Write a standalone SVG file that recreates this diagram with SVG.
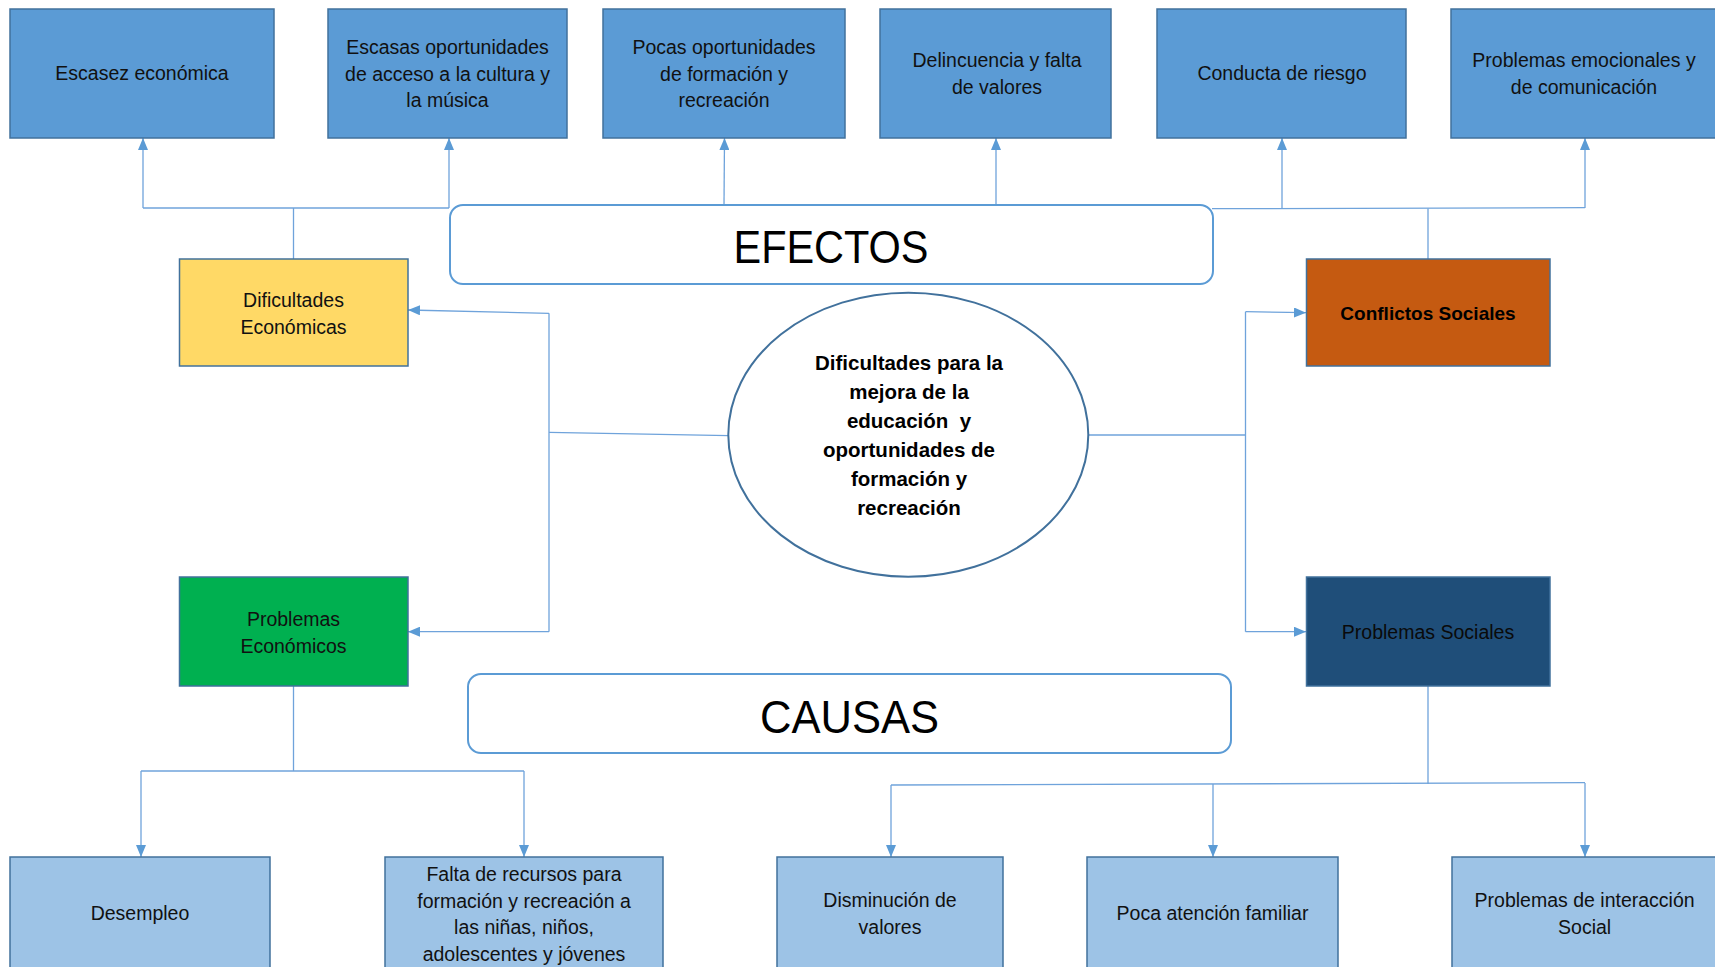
<svg xmlns="http://www.w3.org/2000/svg" width="1715" height="967" viewBox="0 0 1715 967">
<defs>
<marker id="arr" markerUnits="userSpaceOnUse" markerWidth="12" markerHeight="10" refX="12" refY="5" orient="auto">
<path d="M0,0 L12,5 L0,10 z" fill="#5b9bd5"/>
</marker>
<style>
text{font-family:"Liberation Sans",Arial,sans-serif;font-size:19.5px;fill:#111;text-anchor:middle}
.top{fill:#5b9bd5;stroke:#41719c;stroke-width:1.5}
.bot{fill:#9dc3e6;stroke:#41719c;stroke-width:1.5}
.mid{stroke:#41719c;stroke-width:1.5}
.title{fill:#fff;stroke:#5b9bd5;stroke-width:2}
.big{font-size:46px;fill:#000}
.b{font-weight:bold;fill:#000}
.e{font-size:20.5px}
#connectors path{fill:none;stroke:#6fa3db;stroke-width:1.3}
#connectors path.a{marker-end:url(#arr)}
</style>
</defs>
<rect width="1715" height="967" fill="#fff"/>
<g id="connectors">
<path d="M293.5 259 V208"/>
<path d="M143 208 H449"/>
<path class="a" d="M143 208 V138"/>
<path class="a" d="M449 208 V138"/>
<path class="a" d="M724 205 L724.5 138"/>
<path class="a" d="M996 205 V138"/>
<path d="M1428 259 V208.5"/>
<path d="M1212 208.7 L1585 207.7"/>
<path class="a" d="M1282 209 V138"/>
<path class="a" d="M1585 208 V138"/>
<path d="M729 435.7 L549 432.3"/>
<path d="M549 313.3 V631.7"/>
<path class="a" d="M549 313.3 L408 310"/>
<path class="a" d="M549 631.7 H408"/>
<path d="M1088 435 H1245.5"/>
<path d="M1245.5 311.7 V631.7"/>
<path class="a" d="M1245.5 311.7 L1306 312.7"/>
<path class="a" d="M1245.5 631.7 H1306"/>
<path d="M293.5 686 V771"/>
<path d="M141 771 H524"/>
<path class="a" d="M141 771 V857"/>
<path class="a" d="M524 771 V857"/>
<path d="M1428 686 V784"/>
<path d="M891 785 L1585 782.7"/>
<path class="a" d="M891 785 V857"/>
<path class="a" d="M1213 784 V857"/>
<path class="a" d="M1585 783 V857"/>
</g>
<g id="efecto1"><rect class="top" x="10" y="9" width="264" height="129"/><text x="142" y="80">Escasez económica</text></g>
<g id="efecto2"><rect class="top" x="328" y="9" width="239" height="129"/><text x="447.5" y="54">Escasas oportunidades</text><text x="447.5" y="80.5">de acceso a la cultura y</text><text x="447.5" y="107">la música</text></g>
<g id="efecto3"><rect class="top" x="603" y="9" width="242" height="129"/><text x="724" y="54">Pocas oportunidades</text><text x="724" y="80.5">de formación y</text><text x="724" y="107">recreación</text></g>
<g id="efecto4"><rect class="top" x="880" y="9" width="231" height="129"/><text x="997" y="67">Delincuencia y falta</text><text x="997" y="94">de valores</text></g>
<g id="efecto5"><rect class="top" x="1157" y="9" width="249" height="129"/><text x="1282" y="80">Conducta de riesgo</text></g>
<g id="efecto6"><rect class="top" x="1451" y="9" width="280" height="129"/><text x="1584" y="67">Problemas emocionales y</text><text x="1584" y="94">de comunicación</text></g>
<g id="efectos"><rect class="title" x="450" y="205" width="763" height="79" rx="13"/><text class="big" x="831" y="263" textLength="195" lengthAdjust="spacingAndGlyphs">EFECTOS</text></g>
<g id="dificultades"><rect class="mid" x="179.5" y="259" width="228.5" height="107" fill="#ffd966"/><text x="293.5" y="307">Dificultades</text><text x="293.5" y="334">Económicas</text></g>
<g id="conflictos"><rect class="mid" x="1306.5" y="259" width="243.5" height="107" fill="#c55a11"/><text class="b" x="1428" y="319.5" style="font-size:19px">Conflictos Sociales</text></g>
<g id="centro"><ellipse cx="908.3" cy="434.7" rx="180" ry="142" fill="#fff" stroke="#41719c" stroke-width="2"/>
<text class="b e" x="909" y="370">Dificultades para la</text>
<text class="b e" x="909" y="399">mejora de la</text>
<text class="b e" x="909" y="428">educación&#160; y</text>
<text class="b e" x="909" y="457">oportunidades de</text>
<text class="b e" x="909" y="486">formación y</text>
<text class="b e" x="909" y="515">recreación</text></g>
<g id="probEcon"><rect class="mid" x="179.5" y="577" width="228.5" height="109" fill="#00b050"/><text x="293.5" y="626">Problemas</text><text x="293.5" y="653">Económicos</text></g>
<g id="probSoc"><rect class="mid" x="1306.5" y="577" width="243.5" height="109" fill="#1f4e79"/><text x="1428" y="638.5" style="fill:#0a0a0a">Problemas Sociales</text></g>
<g id="causas"><rect class="title" x="468" y="674" width="763" height="79" rx="13"/><text class="big" x="849.5" y="732.5" textLength="179" lengthAdjust="spacingAndGlyphs">CAUSAS</text></g>
<g id="causa1"><rect class="bot" x="10" y="857" width="260" height="130"/><text x="140" y="920">Desempleo</text></g>
<g id="causa2"><rect class="bot" x="385" y="857" width="278" height="130"/><text x="524" y="881">Falta de recursos para</text><text x="524" y="907.7">formación y recreación a</text><text x="524" y="934.3">las niñas, niños,</text><text x="524" y="961">adolescentes y jóvenes</text></g>
<g id="causa3"><rect class="bot" x="777" y="857" width="226" height="130"/><text x="890" y="907">Disminución de</text><text x="890" y="933.7">valores</text></g>
<g id="causa4"><rect class="bot" x="1087" y="857" width="251" height="130"/><text x="1212.5" y="920">Poca atención familiar</text></g>
<g id="causa5"><rect class="bot" x="1452" y="857" width="280" height="130"/><text x="1584.6" y="907">Problemas de interacción</text><text x="1584.6" y="933.7">Social</text></g>
</svg>
